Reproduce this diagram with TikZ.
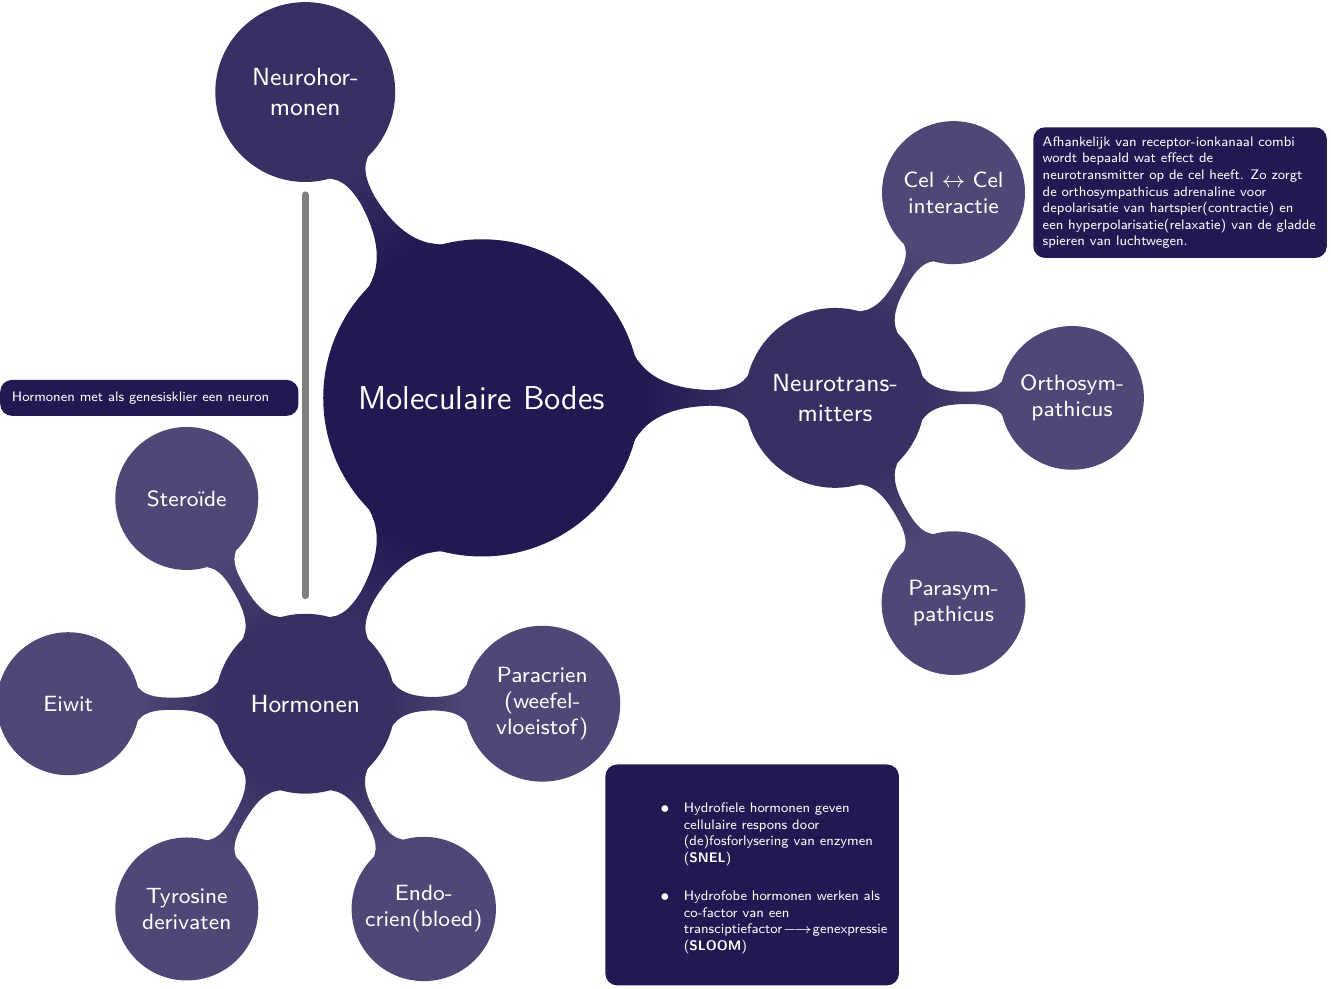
\documentclass[tikz,border=0pt]{standalone}
\usepackage{amsmath}
\usepackage{amssymb}
\usepackage{tikz}
\usetikzlibrary{positioning}
\usetikzlibrary{mindmap}
\renewcommand{\familydefault}{\sfdefault}
\renewcommand{\labelitemi}{$\bullet$}
\definecolor{bodes}{RGB}{33,26,82}
\tikzstyle{notebox} = [rectangle, rounded corners=0.15cm, fill=bodes, text=white, font=\tiny, text width=3.5cm, inner sep=0.12cm, minimum size=0pt, align=flush left]
\tikzstyle{genesisline} = [gray, line width=2.5pt, line cap=round]

\begin{document}
\begin{tikzpicture}
    \useasboundingbox (-6.14,-7.52) rectangle (10.82,5.07);
    \begin{scope}[mindmap, concept color=bodes, text=white,
        root concept/.append style={minimum size=4cm, text width=3.5cm, font=\large},
        level 1 concept/.append style={level distance=4.5cm, minimum size=2.25cm, text width=1.9cm, font=\small},
        level 2 concept/.append style={level distance=3.02cm, minimum size=1.78cm, text width=1.6cm, font=\footnotesize}]
    \node (bodes) [concept, root concept] at (0,0) {Moleculaire Bodes}
        child [grow=0, concept color=bodes!90] { node (transmitters) [concept] {Neurotrans-\\mitters}
            child [grow=60, concept color=bodes!80] { node (celcel) [concept] {Cel $\leftrightarrow$ Cel\\interactie} }
            child [grow=0, concept color=bodes!80] { node (ortho) [concept] {Orthosym-\\pathicus} }
            child [grow=-60, concept color=bodes!80] { node (para) [concept] {Parasym-\\pathicus} }
        }
        child [grow=120, concept color=bodes!90] { node (neurohormonen) [concept] {Neurohor-\\monen} }
        child [grow=240, concept color=bodes!90] { node (hormonen) [concept] {Hormonen}
            child [grow=120, concept color=bodes!80] { node (steroide) [concept] {Steroïde} }
            child [grow=180, concept color=bodes!80] { node (eiwit) [concept] {Eiwit} }
            child [grow=240, concept color=bodes!80] { node (tyrosine) [concept] {Tyrosine\\derivaten} }
            child [grow=300, concept color=bodes!80] { node (endocrien) [concept] {Endo-\\crien(bloed)} }
            child [grow=0, concept color=bodes!80] { node (paracrien) [concept] {Paracrien\\(weefel-\\vloeistof)} }
        };
    \end{scope}
    \draw [genesisline, shorten <=0.185cm, shorten >=0.25cm] (neurohormonen) -- coordinate (genesismid) (hormonen);
    \node (genesis) [notebox, inner sep=0.15cm, left=0.08cm of genesismid] {Hormonen met als genesisklier een neuron};
    \node (receptor) [notebox, right=0.12cm of celcel] {Afhankelijk van receptor-ionkanaal combi wordt bepaald wat effect de neurotransmitter op de cel heeft. Zo zorgt de orthosympathicus adrenaline voor depolarisatie van hartspier(contractie) en een hyperpolarisatie(relaxatie) van de gladde spieren van luchtwegen.};
    \node (respons) [notebox, below right=0.08cm and 0.11cm of paracrien.south east] {
        \begin{itemize}
            \item Hydrofiele hormonen geven cellulaire respons door (de)fosforlysering van enzymen (\textbf{SNEL})
            \item Hydrofobe hormonen werken als co-factor van een transciptiefactor$\longrightarrow$genexpressie (\textbf{SLOOM})
        \end{itemize}
        \vspace{0pt}
    };
\end{tikzpicture}
\end{document}
